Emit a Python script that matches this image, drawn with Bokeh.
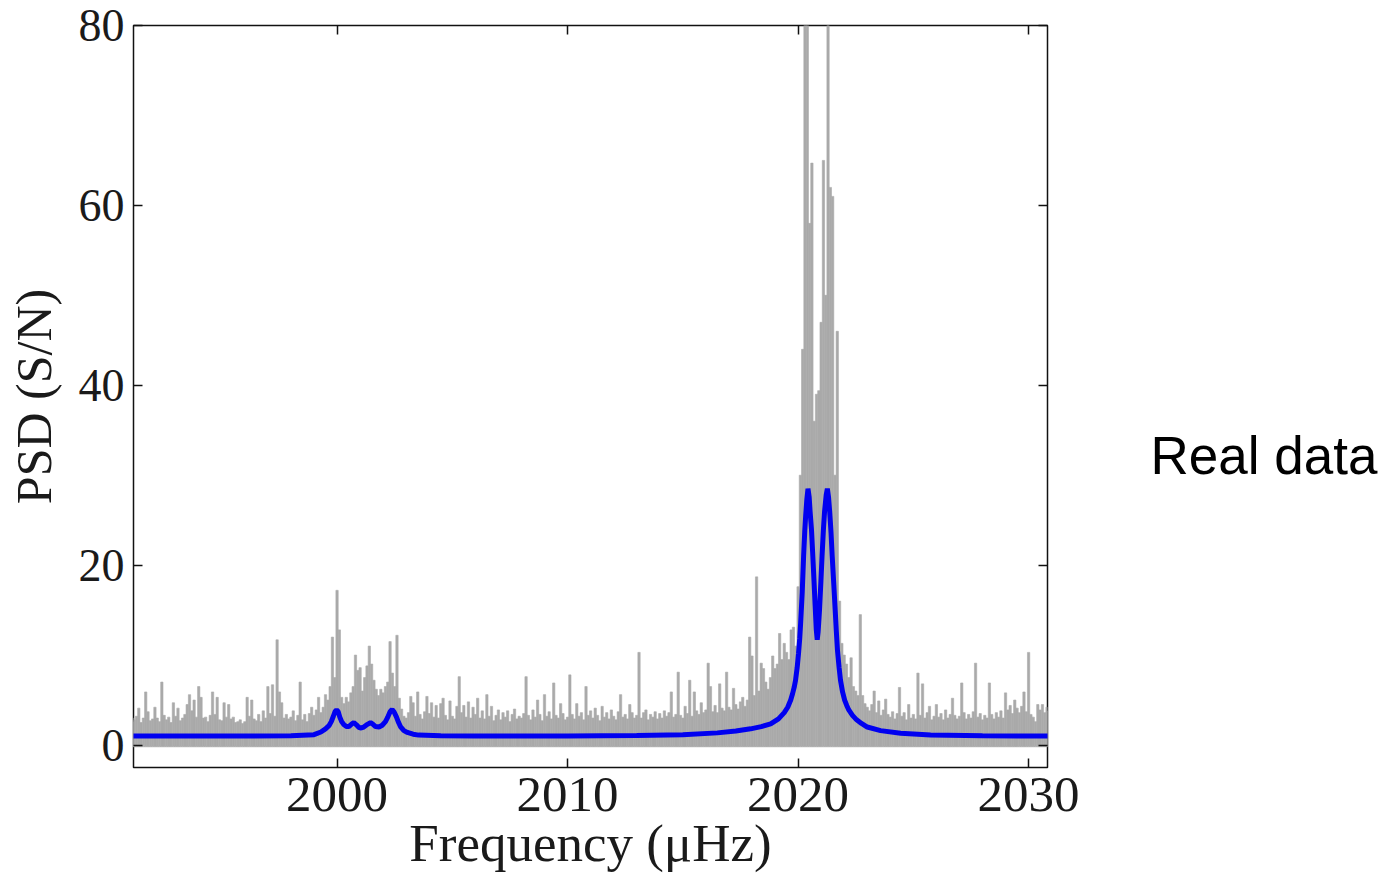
from bokeh.plotting import figure
from bokeh.models import Range1d, LinearAxis, FixedTicker, Label
from bokeh.layouts import row
from bokeh.embed import file_html
from bokeh.resources import INLINE

# ---- data ---------------------------------------------------------------
# gray spectrum: peak height per 0.1 uHz bin, rows = one uHz starting at 1991.0
bin_start = 1991.0
bin_width = 0.1
psd_rows = [
    [3.0, 2.6, 2.8, 3.2, 4.1, 2.5, 3.0, 5.9, 3.7, 2.7],   # 1991
    [2.9, 4.2, 3.0, 2.6, 7.0, 3.3, 2.8, 3.1, 2.5, 4.7],   # 1992
    [3.2, 4.1, 2.7, 3.0, 3.4, 4.5, 5.6, 3.8, 5.0, 3.1],   # 1993
    [6.5, 5.3, 3.0, 3.1, 2.6, 3.3, 5.9, 3.4, 5.3, 2.8],   # 1994
    [2.7, 4.7, 3.1, 4.5, 2.9, 3.1, 2.5, 2.6, 2.8, 2.4],   # 1995
    [2.6, 5.3, 3.2, 5.0, 2.9, 2.7, 3.4, 2.6, 3.8, 3.0],   # 1996
    [6.5, 3.5, 6.7, 3.2, 11.7, 5.9, 4.7, 3.0, 3.4, 2.9],  # 1997
    [3.1, 3.8, 2.7, 3.3, 7.0, 2.8, 3.4, 2.6, 3.5, 4.2],   # 1998
    [3.3, 3.9, 5.3, 3.6, 4.2, 5.6, 5.0, 6.5, 12.0, 7.5],  # 1999
    [17.2, 12.8, 5.3, 4.6, 5.3, 4.8, 5.8, 6.5, 10.0, 8.3],  # 2000
    [8.6, 6.0, 7.5, 8.8, 11.0, 9.0, 7.2, 6.2, 5.5, 6.2],  # 2001
    [5.8, 6.5, 7.0, 11.5, 8.0, 6.5, 12.2, 5.2, 4.0, 3.2],  # 2002
    [3.0, 3.6, 5.4, 4.7, 3.2, 5.9, 3.4, 2.9, 3.7, 5.4],   # 2003
    [3.5, 4.7, 3.1, 4.4, 3.0, 4.6, 5.2, 3.3, 2.8, 4.9],   # 2004
    [3.2, 2.9, 4.3, 7.6, 3.6, 4.4, 3.1, 4.8, 3.0, 4.2],   # 2005
    [3.4, 5.2, 3.0, 3.8, 2.9, 5.6, 3.2, 4.3, 2.7, 3.3],   # 2006
    [3.9, 2.8, 3.6, 3.1, 3.8, 2.6, 3.4, 4.0, 2.9, 3.2],   # 2007
    [3.0, 3.5, 7.6, 3.3, 2.8, 3.9, 3.1, 5.0, 3.4, 2.7],   # 2008
    [5.6, 3.2, 3.7, 2.9, 6.9, 3.3, 3.0, 4.6, 3.5, 2.8],   # 2009
    [3.1, 7.8, 3.4, 2.9, 4.6, 3.2, 3.6, 2.8, 6.5, 3.3],   # 2010
    [3.8, 3.0, 4.1, 3.3, 2.7, 4.3, 3.1, 3.6, 2.9, 3.9],   # 2011
    [3.2, 2.8, 3.7, 5.6, 3.1, 3.4, 2.9, 4.5, 3.6, 3.0],   # 2012
    [3.3, 10.3, 3.0, 3.6, 3.9, 2.8, 3.4, 3.1, 3.7, 2.9],  # 2013
    [3.5, 3.0, 3.8, 3.2, 3.6, 5.9, 3.1, 3.4, 8.1, 3.3],   # 2014
    [3.0, 4.3, 3.5, 7.2, 3.2, 5.9, 3.8, 3.4, 4.7, 3.6],   # 2015
    [3.9, 9.1, 6.5, 3.7, 4.4, 3.6, 6.8, 4.1, 3.8, 8.1],   # 2016
    [4.2, 3.9, 6.3, 4.5, 4.0, 4.8, 5.3, 4.3, 5.0, 12.0],  # 2017
    [9.9, 5.5, 18.7, 6.0, 9.1, 8.5, 7.0, 6.2, 7.5, 9.9],  # 2018
    [8.5, 9.0, 12.4, 9.5, 11.3, 10.3, 9.5, 12.8, 13.1, 11.0],  # 2019
    [17.6, 30.0, 44.0, 95.0, 95.0, 58.0, 64.7, 36.0, 39.0, 39.4],  # 2020
    [47.0, 65.0, 50.0, 95.0, 62.0, 61.0, 30.0, 46.0, 16.0, 11.3],  # 2021
    [10.0, 9.0, 7.5, 9.7, 6.5, 6.0, 5.5, 14.5, 5.5, 4.6],  # 2022
    [4.2, 3.8, 4.5, 6.0, 3.6, 4.9, 3.3, 3.9, 5.1, 3.4],   # 2023
    [3.1, 3.7, 2.9, 3.5, 6.4, 3.2, 3.6, 2.8, 4.5, 3.0],   # 2024
    [3.4, 2.9, 8.0, 3.3, 6.8, 3.0, 3.6, 4.3, 2.8, 3.2],   # 2025
    [4.5, 3.1, 3.5, 2.8, 3.9, 3.0, 3.4, 5.2, 3.3, 2.9],   # 2026
    [3.2, 6.9, 3.6, 2.9, 3.4, 3.0, 3.7, 9.1, 3.1, 3.5],   # 2027
    [2.8, 3.3, 3.0, 6.9, 3.4, 2.9, 3.6, 3.1, 3.8, 3.0],   # 2028
    [5.8, 3.9, 4.4, 3.5, 5.0, 4.1, 3.6, 4.3, 5.9, 3.7],   # 2029
    [10.3, 3.4, 3.1, 2.6, 4.5, 3.9, 4.5, 3.6, 4.2, 3.8],  # 2030
]
psd_floor = -0.2

# blue model curve
model_freq = [1991.0, 1995.0, 1998.0, 1999.0, 1999.3, 1999.5, 1999.65, 1999.75,
              1999.84, 1999.91, 1999.98, 2000.05, 2000.12, 2000.2, 2000.30,
              2000.42, 2000.51, 2000.62, 2000.73, 2000.84, 2000.95, 2001.05,
              2001.16, 2001.32, 2001.45, 2001.56, 2001.67, 2001.82, 2001.96,
              2002.10, 2002.20, 2002.30, 2002.39, 2002.47, 2002.58, 2002.67,
              2002.75, 2002.90, 2003.05, 2003.3, 2003.54, 2004.5, 2006.0,
              2010.0, 2013.0, 2015.0, 2016.5, 2017.3, 2017.94, 2018.4, 2018.81,
              2019.15, 2019.4, 2019.55, 2019.68, 2019.76, 2019.83, 2019.89,
              2019.96, 2020.02, 2020.07, 2020.11, 2020.18, 2020.24, 2020.29,
              2020.33, 2020.38, 2020.43, 2020.48, 2020.52, 2020.58, 2020.63,
              2020.69, 2020.74, 2020.79, 2020.83, 2020.87, 2020.93, 2020.99,
              2021.04, 2021.10, 2021.15, 2021.22, 2021.27, 2021.32, 2021.37,
              2021.43, 2021.48, 2021.55, 2021.61, 2021.66, 2021.71, 2021.78,
              2021.84, 2021.93, 2022.02, 2022.11, 2022.20, 2022.36, 2022.54,
              2022.75, 2023.0, 2023.58, 2024.45, 2025.75, 2028.0, 2031.0]
model_psd = [1.0, 1.0, 1.03, 1.15, 1.45, 1.8, 2.15, 2.6,
             3.2, 3.7, 3.9, 3.7, 3.1, 2.6, 2.25,
             2.05, 2.05, 2.3, 2.5, 2.25, 1.95, 1.9,
             2.0, 2.3, 2.5, 2.3, 2.05, 2.0, 2.2,
             2.6, 3.1, 3.7, 3.95, 3.7, 3.1, 2.5,
             2.05, 1.6, 1.4, 1.2, 1.1, 1.03, 1.0,
             1.0, 1.05, 1.15, 1.35, 1.55, 1.8, 2.05, 2.35,
             2.9, 3.6, 4.2, 5.0, 5.7, 6.4, 7.2,
             8.6, 10.2, 11.8, 13.5, 17.0, 21.0, 23.8,
             25.5, 27.3, 28.5, 27.6, 26.0, 24.0, 21.5,
             18.3, 15.5, 12.8, 11.7, 12.6, 15.0, 18.2,
             21.0, 24.0, 26.0, 27.8, 28.5, 27.6, 26.0,
             23.6, 21.0, 17.8, 15.0, 12.6, 10.5, 8.6,
             7.2, 5.9, 5.0, 4.4, 3.9, 3.3, 2.8,
             2.4, 2.0, 1.6, 1.3, 1.12, 1.03, 1.0]

x_ticks = [2000, 2010, 2020, 2030]
y_ticks = [0, 20, 40, 60, 80]
side_text = "Real data"

psd = [v for row_ in psd_rows for v in row_]
freq = [round(bin_start + i * bin_width, 2) for i in range(len(psd))]

# ---- main figure ---------------------------------------------------------
p = figure(width=1100, height=874,
           x_range=Range1d(1991.17, 2030.82), y_range=Range1d(-2.5, 80),
           output_backend="svg", toolbar_location=None,
           min_border_left=133, min_border_right=53,
           min_border_top=25, min_border_bottom=107)

p.vbar(x=freq, width=bin_width, bottom=psd_floor, top=psd,
       fill_color="#aaaaaa", line_color="#aaaaaa", line_width=0.6)
p.line(model_freq, model_psd, line_color="#0000f0", line_width=5)

p.xgrid.visible = False
p.ygrid.visible = False
p.outline_line_color = "#111111"
p.outline_line_width = 1.5
p.background_fill_color = "white"
p.border_fill_color = "white"

serif = "Liberation Serif"

def style(ax, ticks, size):
    ax.ticker = FixedTicker(ticks=ticks)
    ax.axis_line_color = None
    ax.major_tick_in = 9
    ax.major_tick_out = 0
    ax.major_tick_line_color = "#111111"
    ax.major_tick_line_width = 1.5
    ax.minor_tick_line_color = None
    ax.major_label_text_font = serif
    ax.major_label_text_color = "#1a1a1a"
    ax.major_label_text_font_size = size
    if size == "0px":
        ax.major_label_text_alpha = 0
        ax.major_label_standoff = 0

style(p.xaxis[0], x_ticks, "51px")
style(p.yaxis[0], y_ticks, "46px")
p.xaxis[0].major_label_standoff = 10
p.yaxis[0].major_label_standoff = 9

p.xaxis[0].axis_label = "Frequency (μHz)"
p.yaxis[0].axis_label = "PSD (S/N)"
p.xaxis[0].axis_label_text_font_size = "53px"
p.yaxis[0].axis_label_text_font_size = "50px"
for ax in (p.xaxis[0], p.yaxis[0]):
    ax.axis_label_text_font = serif
    ax.axis_label_text_font_style = "normal"
    ax.axis_label_text_color = "#1a1a1a"
p.xaxis[0].axis_label_standoff = 0
p.yaxis[0].axis_label_standoff = 14

top_ax = LinearAxis()
style(top_ax, x_ticks, "0px")
p.add_layout(top_ax, "above")
right_ax = LinearAxis()
style(right_ax, y_ticks, "0px")
p.add_layout(right_ax, "right")

# ---- side text panel -----------------------------------------------------
q = figure(width=293, height=874, x_range=Range1d(0, 293), y_range=Range1d(0, 874),
           output_backend="svg", toolbar_location=None,
           x_axis_location=None, y_axis_location=None,
           min_border=0)
q.xgrid.visible = False
q.ygrid.visible = False
q.outline_line_color = None
q.background_fill_color = "white"
q.border_fill_color = "white"
q.add_layout(Label(x=50, y=368, text=side_text,
                   text_font="Liberation Sans", text_font_size="53px",
                   text_color="black", text_baseline="alphabetic"))

open("out.html", "w").write(file_html(row(p, q), INLINE))
